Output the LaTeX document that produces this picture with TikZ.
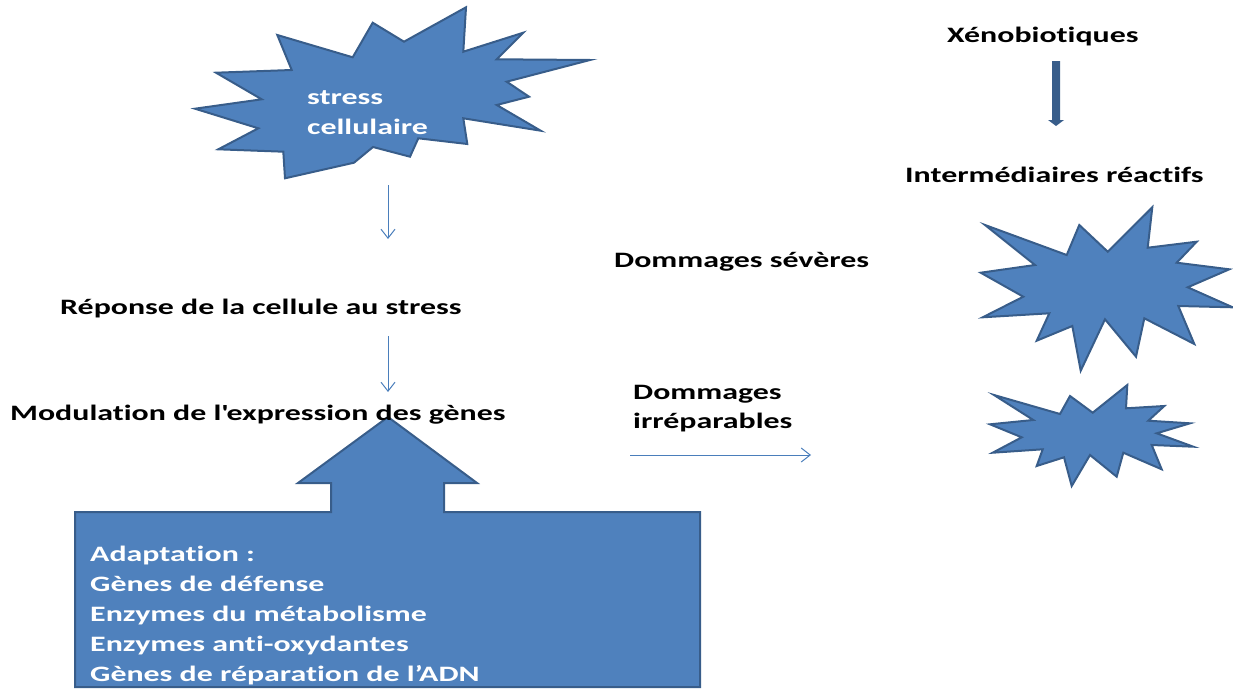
\documentclass[tikz,border=0pt]{standalone}
\usepackage{fontspec}
\setmainfont{Carlito}[FakeStretch=1.45,Ligatures={NoCommon}]
\usetikzlibrary{arrows.meta}
\definecolor{shapefill}{HTML}{4F81BD}
\definecolor{shapeline}{HTML}{385D8A}
\definecolor{thinline}{HTML}{4A7EBB}
\tikzset{
 lbl/.style={anchor=base west, inner sep=0pt, font=\fontsize{22}{30}\selectfont\bfseries, text=black},
 wlbl/.style={lbl, text=white},
 burst/.style={fill=shapefill, draw=shapeline, line width=2pt, line join=miter},
 thinarrow/.style={draw=thinline, line width=1pt, -{Straight Barb[length=9pt,width=14pt]}}
}
\begin{document}
\begin{tikzpicture}[x=1pt,y=-1pt]
\useasboundingbox (0,0) rectangle (1233,688);
% star 1
\draw[burst] (277.3,35) -- (291.7,70) -- (216,72.7) -- (261.7,99.3) -- (195,108.7) -- (258.3,128.3) -- (218.3,149.3) -- (283.3,151.7) -- (285,178.3) -- (354,162.7) -- (373,147) -- (410,156.7) -- (418.3,138.3) -- (467.3,144) -- (463.3,118.3) -- (540.7,130.7) -- (496.7,105) -- (529,96.7) -- (506.7,81.7) -- (590,60) -- (496.7,59.3) -- (523.3,32.7) -- (463.3,51.7) -- (466,7.3) -- (404,41.7) -- (372.7,22.7) -- (352.7,57.3) -- cycle;
\node[wlbl] (s1) at (307,104) {stress};
\node[wlbl] (s2) at (307,134) {cellulaire};
% star 2
\draw[burst] (985,225) -- (1066.7,255) -- (1079.3,225) -- (1107.7,251.7) -- (1152.3,207.3) -- (1147.7,247.7) -- (1196.7,241.7) -- (1176.7,262.7) -- (1229.3,269.3) -- (1187.7,287.3) -- (1232.7,307.3) -- (1178.3,306) -- (1194.3,344) -- (1144.3,318.3) -- (1136,356.7) -- (1105,319.3) -- (1080.7,370.7) -- (1072.3,326) -- (1036.7,340.7) -- (1049.3,313.3) -- (982.7,317.3) -- (1023.3,296.7) -- (980.7,272.7) -- (1035,265) -- cycle;
% star 3
\draw[burst] (994,395) -- (1060,414) -- (1070,396) -- (1092.7,412.7) -- (1127.3,385) -- (1126,408.3) -- (1164.3,406) -- (1148.3,420.7) -- (1190,423.3) -- (1156.7,433.3) -- (1193.3,446.7) -- (1151.7,445) -- (1161.7,469.3) -- (1123.3,452.7) -- (1116.7,476.7) -- (1090,455) -- (1071.7,486) -- (1064,457.3) -- (1036.7,466) -- (1042.7,449.3) -- (992.7,452.7) -- (1021.7,437.3) -- (990,424.3) -- (1033.3,420) -- cycle;
% big up arrow box
\draw[burst] (75,512) -- (331,512) -- (331,483) -- (298,483) -- (388,417) -- (477,483) -- (444,483) -- (444,512) -- (700,512) -- (700,687) -- (75,687) -- cycle;
\node[wlbl] (b1) at (90,561) {Adaptation :};
\node[wlbl] (b2) at (90,591) {Gènes de défense};
\node[wlbl] (b3) at (90,621) {Enzymes du métabolisme};
\node[wlbl] (b4) at (90,651) {Enzymes anti-oxydantes};
\node[wlbl] (b5) at (90,681) {Gènes de réparation de l’ADN};
% labels
\node[lbl] (xeno) at (947,42) {Xénobiotiques};
\node[lbl] (inter) at (905,182) {Intermédiaires réactifs};
\node[lbl] (sev) at (614,267) {Dommages sévères};
\node[lbl] (rep) at (60,314) {Réponse de la cellule au stress};
\node[lbl] (mod) at (10,420) {Modulation de l\textquotesingle expression des gènes};
\node[lbl] (irr1) at (633,399) {Dommages};
\node[lbl] (irr2) at (633,428) {irréparables};
% thin arrows
\coordinate (t1a) at (388,185);
\coordinate (t1b) at (388,239);
\coordinate (t2a) at (388,336);
\coordinate (t2b) at (388,392);
\coordinate (t3a) at (630,455);
\coordinate (t3b) at (811,455);
\draw[thinarrow] (t1a) -- (t1b);
\draw[thinarrow] (t2a) -- (t2b);
\draw[thinarrow] (t3a) -- (t3b);
% thick arrow
\fill[shapeline] (1052,61) -- (1060,61) -- (1060,120) -- (1064,120) -- (1056,126) -- (1048,120) -- (1052,120) -- cycle;
\end{tikzpicture}
\end{document}
